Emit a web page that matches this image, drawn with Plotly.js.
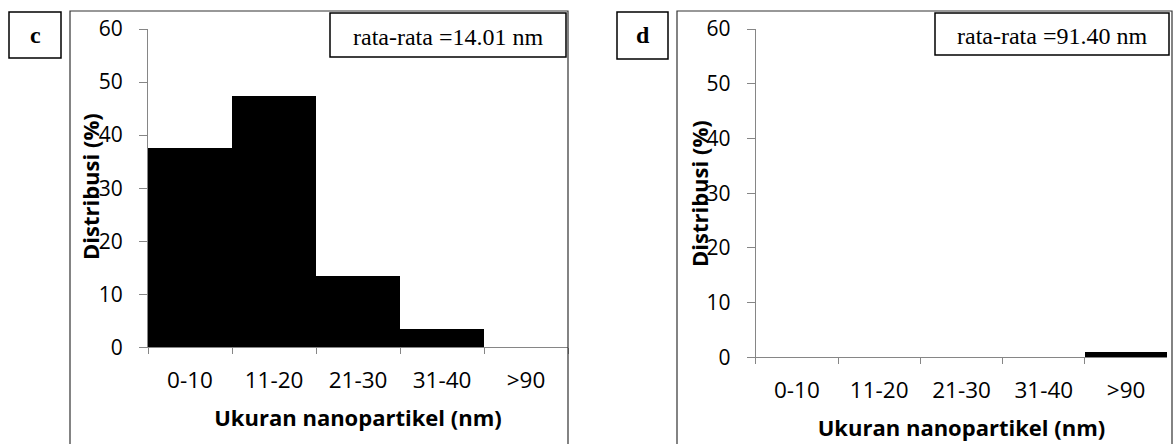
<!DOCTYPE html>
<html>
<head>
<meta charset="utf-8">
<script src="https://cdn.plot.ly/plotly-3.0.1.min.js"></script>
<style>
  html, body { margin: 0; padding: 0; background: #fff; }
  #chart { width: 1173px; height: 444px; }
</style>
</head>
<body>
<div id="chart"></div>
<script>
// Size classes shared by both panels
const sizeClasses = ['0-10', '11-20', '21-30', '31-40', '>90'];

// Panel c: particle size distribution (%)
const distC = [37.5, 47.4, 13.5, 3.5, 0];
// Panel d: particle size distribution (%)
const distD = [0, 0, 0, 0, 1];

const panelLabels = ['c', 'd'];
const meanLabels = ['rata-rata =14.01 nm', 'rata-rata =91.40 nm'];
const yTicks = [0, 10, 20, 30, 40, 50, 60];
const xTitle = 'Ukuran nanopartikel (nm)';
const yTitle = 'Distribusi (%)';

const W = 1173, H = 444;
const px = v => v / W;
const py = v => 1 - v / H;

const axisGray = '#868686';
const family = 'Open Sans, sans-serif';
const xTickFont = { family: family, size: 22.5, color: '#000' };
const yTickFont = { family: family, size: 21, color: '#000' };
const titleFont = { family: family, size: 22, color: '#000', weight: 'bold' };

function xAxis(domain, anchor) {
  return {
    domain: domain, anchor: anchor, type: 'category',
    range: [-0.5, 4.5], fixedrange: true,
    showline: true, linecolor: axisGray, linewidth: 1,
    ticks: 'outside', tickson: 'boundaries', ticklen: 6, tickcolor: axisGray,
    tickfont: xTickFont, ticklabelstandoff: 13,
    showgrid: false, zeroline: false,
    title: { text: xTitle, font: titleFont, standoff: 16 }
  };
}
function yAxis(domain, anchor) {
  return {
    domain: domain, anchor: anchor,
    range: [0, 60], tickvals: yTicks, fixedrange: true,
    showline: true, linecolor: axisGray, linewidth: 1,
    ticks: 'outside', ticklen: 8, tickcolor: axisGray,
    tickfont: yTickFont, ticklabelstandoff: 12,
    showgrid: false, zeroline: false
  };
}

const traces = [
  { type: 'bar', x: sizeClasses, y: distC, xaxis: 'x', yaxis: 'y',
    marker: { color: '#000', line: { width: 0 } }, hoverinfo: 'x+y' },
  { type: 'bar', x: sizeClasses, y: distD, xaxis: 'x2', yaxis: 'y2',
    marker: { color: '#000', line: { width: 0 } }, hoverinfo: 'x+y' }
];

const frameColor = '#333';
const boxLine = { color: '#000', width: 1.5 };
const shapes = [
  // outer frames of the two panels
  { type: 'path', xref: 'paper', yref: 'paper',
    path: `M ${px(70)} ${py(446)} L ${px(70)} ${py(11)} L ${px(568)} ${py(11)} L ${px(568)} ${py(446)}`,
    line: { color: frameColor, width: 1.2 } },
  { type: 'path', xref: 'paper', yref: 'paper',
    path: `M ${px(677)} ${py(446)} L ${px(677)} ${py(11)} L ${px(1172)} ${py(11)} L ${px(1172)} ${py(446)}`,
    line: { color: frameColor, width: 1.2 } },
  // panel letter boxes
  { type: 'rect', xref: 'paper', yref: 'paper', x0: px(9), x1: px(61), y0: py(58), y1: py(12), line: boxLine },
  { type: 'rect', xref: 'paper', yref: 'paper', x0: px(617), x1: px(668), y0: py(59), y1: py(12), line: boxLine },
  // mean size boxes
  { type: 'rect', xref: 'paper', yref: 'paper', x0: px(330), x1: px(566), y0: py(57), y1: py(13), line: boxLine },
  { type: 'rect', xref: 'paper', yref: 'paper', x0: px(935), x1: px(1169), y0: py(55), y1: py(13), line: boxLine }
];

const serif = { family: 'Liberation Serif, Times New Roman, serif', size: 24, color: '#000' };
const annotations = [
  { xref: 'paper', yref: 'paper', x: px(35), y: py(35), text: '<b>' + panelLabels[0] + '</b>',
    showarrow: false, font: serif, xanchor: 'center', yanchor: 'middle' },
  { xref: 'paper', yref: 'paper', x: px(642.5), y: py(35), text: '<b>' + panelLabels[1] + '</b>',
    showarrow: false, font: serif, xanchor: 'center', yanchor: 'middle' },
  { xref: 'paper', yref: 'paper', x: px(448), y: py(37), text: meanLabels[0],
    showarrow: false, font: serif, xanchor: 'center', yanchor: 'middle' },
  { xref: 'paper', yref: 'paper', x: px(1052), y: py(36), text: meanLabels[1],
    showarrow: false, font: serif, xanchor: 'center', yanchor: 'middle' },
  // vertical axis titles, set over the tick labels
  { xref: 'paper', yref: 'paper', x: px(90), y: py(187), text: yTitle, textangle: -90,
    showarrow: false, font: titleFont, xanchor: 'center', yanchor: 'middle' },
  { xref: 'paper', yref: 'paper', x: px(699), y: py(194), text: yTitle, textangle: -90,
    showarrow: false, font: titleFont, xanchor: 'center', yanchor: 'middle' }
];

const layout = {
  width: W, height: H,
  margin: { l: 0, r: 0, t: 0, b: 0 },
  paper_bgcolor: '#fff', plot_bgcolor: '#fff',
  showlegend: false, bargap: 0,
  xaxis: xAxis([px(148), px(568)], 'y'),
  yaxis: yAxis([py(347.3), py(29)], 'x'),
  xaxis2: xAxis([px(755.7), px(1167.3)], 'y2'),
  yaxis2: yAxis([py(357.3), py(29)], 'x2'),
  shapes: shapes,
  annotations: annotations
};

Plotly.newPlot('chart', traces, layout, { displayModeBar: false, staticPlot: true });
</script>
</body>
</html>
